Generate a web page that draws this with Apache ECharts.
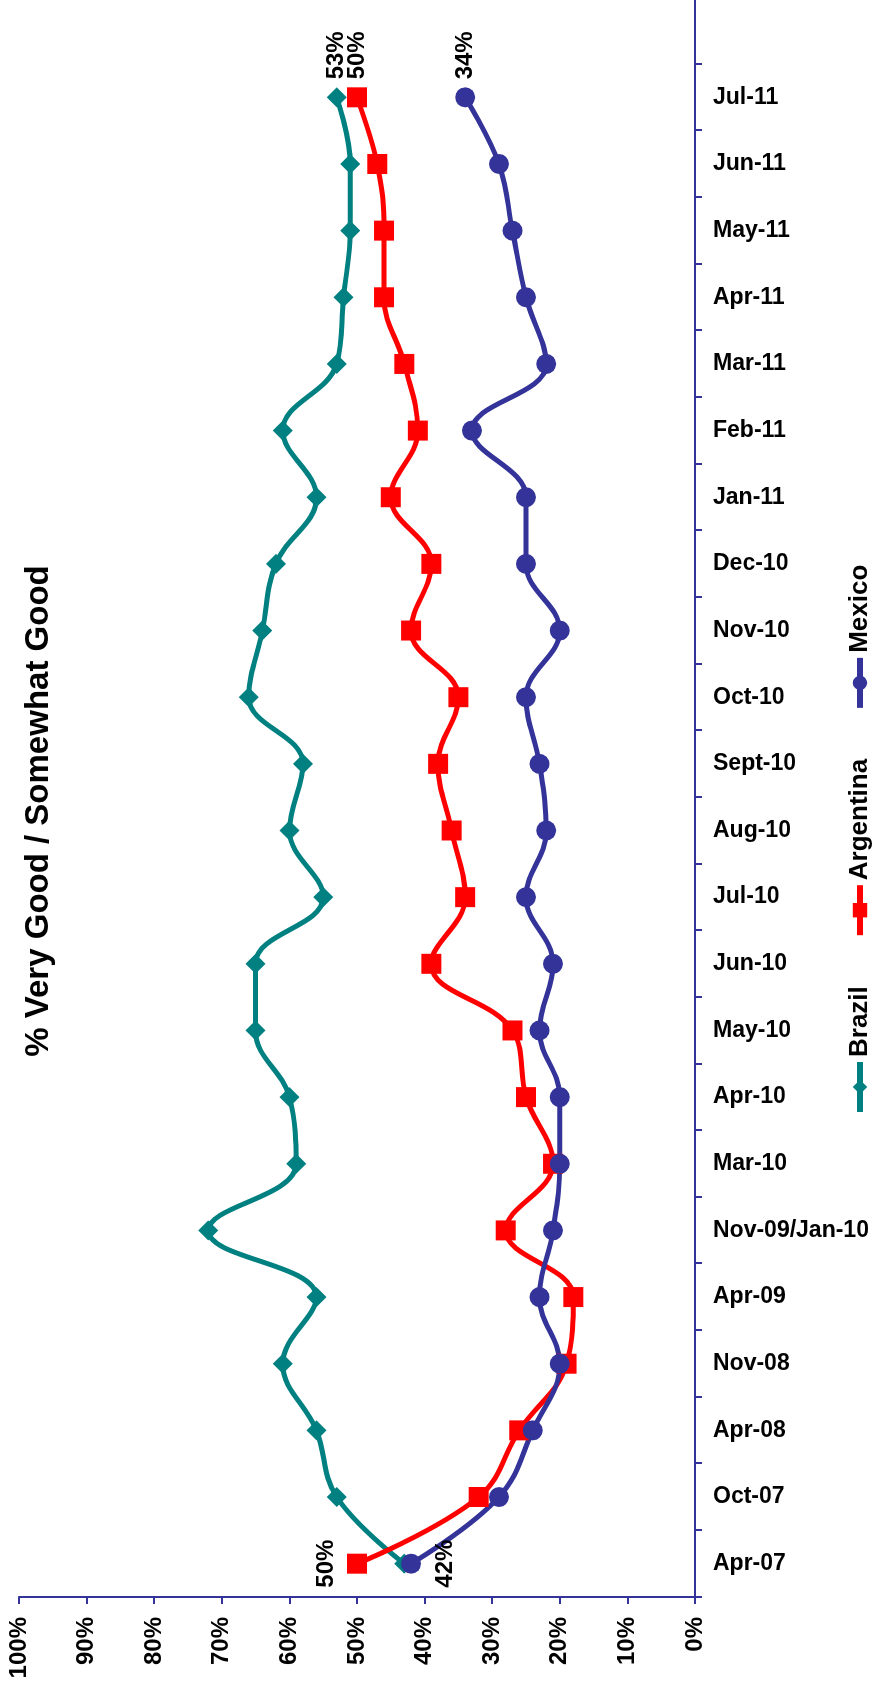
<!DOCTYPE html>
<html>
<head>
<meta charset="utf-8">
<script src="https://cdn.jsdelivr.net/npm/echarts@6/dist/echarts.min.js"></script>
<style>
  html, body { margin: 0; padding: 0; width: 874px; height: 1697px; overflow: hidden; background: #fff; }
  #chart { position: absolute; left: 0; top: 0; width: 1697px; height: 874px;
           transform-origin: 0 0; transform: translateY(1697px) rotate(-90deg); }
</style>
</head>
<body>
<div id="chart"></div>
<script>
// ---- data ----
const TITLE = '% Very Good / Somewhat Good';
const categories = ['Apr-07','Oct-07','Apr-08','Nov-08','Apr-09','Nov-09/Jan-10','Mar-10','Apr-10','May-10','Jun-10',
  'Jul-10','Aug-10','Sept-10','Oct-10','Nov-10','Dec-10','Jan-11','Feb-11','Mar-11','Apr-11','May-11','Jun-11','Jul-11'];
const brazil    = [43,53,56,61,56,72,59,60,65,65,55,60,58,66,64,62,56,61,53,52,51,51,53];
const argentina = [50,32,26,19,18,28,21,25,27,39,34,36,38,35,42,39,45,41,43,46,46,47,50];
const mexico    = [42,29,24,20,23,21,20,20,23,21,25,22,23,25,20,25,25,33,22,25,27,29,34];
const seriesNames = ['Brazil','Argentina','Mexico'];

// ---- layout / style ----
const W = 1697, H = 874;
const GRID = { left: 100, right: 64, top: 19, bottom: 179 };
const FONT = '"Liberation Sans", Arial, sans-serif';
const AXIS_COLOR = '#333399';
const COLORS = ['#008080', '#FF0000', '#333399'];

function withLabels(arr, firstLabel) {
  const last = arr.length - 1;
  return arr.map((v, i) => {
    if (i === last) return { value: v, label: { show: true, position: 'right', distance: 8 } };
    if (i === 0 && firstLabel) return { value: v, label: Object.assign({ show: true }, firstLabel) };
    return v;
  });
}

const labelStyle = { show: false, formatter: '{c}%', fontFamily: FONT, fontWeight: 'bold', fontSize: 24, color: '#000' };

const chart = echarts.init(document.getElementById('chart'), null, { renderer: 'canvas', width: W, height: H });
chart.setOption({
  animation: false,
  backgroundColor: '#fff',
  color: COLORS,
  grid: { left: GRID.left, right: GRID.right, top: GRID.top, bottom: GRID.bottom, containLabel: false },
  graphic: [
    { type: 'text', x: 886, y: 39,
      style: { text: TITLE, font: 'bold 33px ' + FONT, fill: '#000',
               align: 'center', verticalAlign: 'middle', textAlign: 'center', textVerticalAlign: 'middle' } },
    { type: 'line', shape: { x1: W - GRID.right, y1: H - GRID.bottom, x2: W, y2: H - GRID.bottom },
      style: { stroke: AXIS_COLOR, lineWidth: 2 } }
  ],
  legend: {
    left: 577, top: 842,
    itemWidth: 50, itemHeight: 18, itemGap: 48,
    lineStyle: { width: 6 },
    textStyle: { fontFamily: FONT, fontWeight: 'bold', fontSize: 26, color: '#000' },
    data: seriesNames
  },
  xAxis: {
    type: 'category', data: categories, boundaryGap: true,
    axisLine: { show: true, lineStyle: { color: AXIS_COLOR, width: 2 } },
    axisTick: { show: true, length: 7, alignWithLabel: false, lineStyle: { color: AXIS_COLOR, width: 2 } },
    axisLabel: { rotate: -90, margin: 18, interval: 0, fontFamily: FONT, fontWeight: 'bold', fontSize: 23, color: '#000' },
    splitLine: { show: false }
  },
  yAxis: {
    type: 'value', min: 0, max: 100, interval: 10,
    axisLine: { show: true, lineStyle: { color: AXIS_COLOR, width: 2 } },
    axisTick: { show: true, length: 7, lineStyle: { color: AXIS_COLOR, width: 2 } },
    axisLabel: { formatter: '{value}%', margin: 20, fontFamily: FONT, fontWeight: 'bold', fontSize: 24, color: '#000' },
    splitLine: { show: false }
  },
  series: [
    { name: 'Brazil', type: 'line', smooth: 0.4, symbol: 'diamond', symbolSize: 20,
      lineStyle: { width: 5, color: COLORS[0] }, itemStyle: { color: COLORS[0] },
      label: labelStyle, data: withLabels(brazil, null) },
    { name: 'Argentina', type: 'line', smooth: 0.4, symbol: 'rect', symbolSize: 20,
      lineStyle: { width: 5, color: COLORS[1] }, itemStyle: { color: COLORS[1] },
      label: labelStyle, data: withLabels(argentina, { position: 'top', distance: 9 }) },
    { name: 'Mexico', type: 'line', smooth: 0.4, symbol: 'circle', symbolSize: 20,
      lineStyle: { width: 5, color: COLORS[2] }, itemStyle: { color: COLORS[2] },
      label: labelStyle, data: withLabels(mexico, { position: 'bottom', distance: 12 }) }
  ]
});
</script>
</body>
</html>
